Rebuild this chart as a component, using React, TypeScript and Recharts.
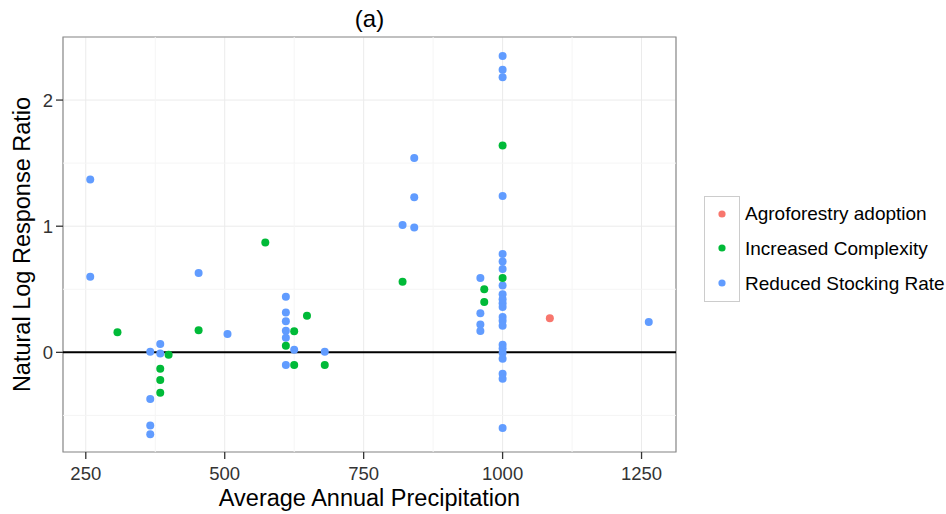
import {
  ScatterChart,
  Scatter,
  XAxis,
  YAxis,
  CartesianGrid,
  ReferenceLine,
  ReferenceArea,
  Legend,
} from 'recharts'

/* ----------  data  ---------- */
const agroforestry = [{ x: 1085, y: 0.27 }]

const increasedComplexity = [
  { x: 307, y: 0.16 },
  { x: 399, y: -0.02 },
  { x: 384, y: -0.13 },
  { x: 384, y: -0.22 },
  { x: 384, y: -0.32 },
  { x: 453, y: 0.175 },
  { x: 573, y: 0.87 },
  { x: 610, y: 0.053 },
  { x: 625, y: 0.167 },
  { x: 625, y: -0.1 },
  { x: 648, y: 0.29 },
  { x: 680, y: -0.1 },
  { x: 820, y: 0.56 },
  { x: 967, y: 0.5 },
  { x: 967, y: 0.4 },
  { x: 1000, y: 1.64 },
  { x: 1000, y: 0.59 },
]

const reducedStocking = [
  { x: 258, y: 1.37 },
  { x: 258, y: 0.6 },
  { x: 366, y: 0.005 },
  { x: 384, y: 0.066 },
  { x: 384, y: -0.01 },
  { x: 366, y: -0.37 },
  { x: 366, y: -0.58 },
  { x: 366, y: -0.65 },
  { x: 453, y: 0.63 },
  { x: 505, y: 0.145 },
  { x: 610, y: 0.44 },
  { x: 610, y: 0.315 },
  { x: 610, y: 0.246 },
  { x: 610, y: 0.172 },
  { x: 610, y: 0.116 },
  { x: 610, y: -0.1 },
  { x: 625, y: 0.02 },
  { x: 680, y: 0.005 },
  { x: 841, y: 1.54 },
  { x: 841, y: 1.23 },
  { x: 820, y: 1.01 },
  { x: 841, y: 0.99 },
  { x: 960, y: 0.59 },
  { x: 960, y: 0.31 },
  { x: 960, y: 0.22 },
  { x: 960, y: 0.17 },
  { x: 1000, y: 2.35 },
  { x: 1000, y: 2.24 },
  { x: 1000, y: 2.18 },
  { x: 1000, y: 1.24 },
  { x: 1000, y: 0.78 },
  { x: 1000, y: 0.72 },
  { x: 1000, y: 0.66 },
  { x: 1000, y: 0.53 },
  { x: 1000, y: 0.46 },
  { x: 1000, y: 0.42 },
  { x: 1000, y: 0.39 },
  { x: 1000, y: 0.36 },
  { x: 1000, y: 0.28 },
  { x: 1000, y: 0.25 },
  { x: 1000, y: 0.21 },
  { x: 1000, y: 0.06 },
  { x: 1000, y: 0.03 },
  { x: 1000, y: -0.005 },
  { x: 1000, y: -0.05 },
  { x: 1000, y: -0.17 },
  { x: 1000, y: -0.21 },
  { x: 1000, y: -0.6 },
  { x: 1263, y: 0.24 },
]

const seriesNames = ['Agroforestry adoption', 'Increased Complexity', 'Reduced Stocking Rate']

const xDomain = [209, 1312]
const yDomain = [-0.79, 2.5]
const xTicks = [250, 500, 750, 1000, 1250]
const yTicks = [0, 1, 2]
const xMinor = [375, 625, 875, 1125]
const yMinor = [-0.5, 0.5, 1.5]

/* ----------  styles  ---------- */
const FONT = '"Liberation Sans", Arial, sans-serif'
const RED = '#F8766D'
const GREEN = '#00BA38'
const BLUE = '#619CFF'

const Dot = (props: any) => <circle cx={props.cx} cy={props.cy} r={4} fill={props.fill} />

const renderLegend = (props: any) => {
  const items = [...(props.payload || [])].sort(
    (a: any, b: any) => seriesNames.indexOf(a.value) - seriesNames.indexOf(b.value)
  )
  return (
    <div style={{ fontFamily: FONT }}>
      {items.map((it: any, i: number) => (
        <div key={it.value} style={{ display: 'flex', alignItems: 'center', height: 35 }}>
          <div
            style={{
              width: 34,
              height: i === 0 ? 34 : 35,
              border: '1px solid #cccccc',
              borderTop: i === 0 ? '1px solid #cccccc' : 'none',
              boxSizing: 'content-box',
              display: 'flex',
              alignItems: 'center',
              justifyContent: 'center',
              background: '#fff',
            }}
          >
            <svg width={8} height={8}>
              <circle cx={4} cy={4} r={3.6} fill={it.color} />
            </svg>
          </div>
          <span style={{ marginLeft: 5, fontSize: 19, color: '#000', whiteSpace: 'nowrap' }}>
            {it.value}
          </span>
        </div>
      ))}
    </div>
  )
}

export default function App() {
  return (
    <div
      style={{
        position: 'absolute',
        left: 0,
        top: 0,
        width: 946,
        height: 514,
        background: '#fff',
        fontFamily: FONT,
      }}
    >
      <div
        style={{
          position: 'absolute',
          left: 63,
          width: 613,
          top: 7,
          textAlign: 'center',
          fontSize: 24,
          lineHeight: '24px',
          color: '#000',
        }}
      >
        (a)
      </div>
      <ScatterChart
        width={946}
        height={514}
        margin={{ top: 37, right: 270, bottom: 0, left: 0 }}
        style={{ fontFamily: FONT }}
      >
        <CartesianGrid stroke="#ebebeb" />
        {xMinor.map((v) => (
          <ReferenceLine key={'vx' + v} x={v} stroke="#f5f5f5" />
        ))}
        {yMinor.map((v) => (
          <ReferenceLine key={'hy' + v} y={v} stroke="#f5f5f5" />
        ))}
        <XAxis
          type="number"
          dataKey="x"
          domain={xDomain}
          ticks={xTicks}
          allowDataOverflow
          height={62}
          axisLine={false}
          tickSize={7}
          tickMargin={8}
          tickLine={{ stroke: '#333', strokeWidth: 1.3 }}
          tick={{ fill: '#333', fontSize: 18.5 }}
          label={{
            value: 'Average Annual Precipitation',
            position: 'insideBottom',
            offset: 8,
            style: { fontSize: 23.5, fill: '#000' },
          }}
        />
        <YAxis
          type="number"
          dataKey="y"
          domain={yDomain}
          ticks={yTicks}
          allowDataOverflow
          width={63}
          axisLine={false}
          tickSize={7}
          tickMargin={3}
          tickLine={{ stroke: '#333', strokeWidth: 1.3 }}
          tick={{ fill: '#333', fontSize: 18.5 }}
          label={{
            value: 'Natural Log Response Ratio',
            angle: -90,
            position: 'insideLeft',
            offset: 22,
            style: { textAnchor: 'middle', fontSize: 23.5, fill: '#000' },
          }}
        />
        <ReferenceArea
          x1={xDomain[0]}
          x2={xDomain[1]}
          y1={yDomain[0]}
          y2={yDomain[1]}
          fill="none"
          stroke="#8c8c8c"
          strokeWidth={1.2}
        />
        <Scatter
          name="Reduced Stocking Rate"
          data={reducedStocking}
          fill={BLUE}
          shape={Dot}
          isAnimationActive={false}
        />
        <Scatter
          name="Increased Complexity"
          data={increasedComplexity}
          fill={GREEN}
          shape={Dot}
          isAnimationActive={false}
        />
        <Scatter
          name="Agroforestry adoption"
          data={agroforestry}
          fill={RED}
          shape={Dot}
          isAnimationActive={false}
        />
        <ReferenceLine y={0} stroke="#000" strokeWidth={2} />
        <Legend
          layout="horizontal"
          align="center"
          verticalAlign="middle"
          content={renderLegend}
          wrapperStyle={{ left: 704, top: 196, width: 'auto', height: 'auto' }}
        />
      </ScatterChart>
    </div>
  )
}
